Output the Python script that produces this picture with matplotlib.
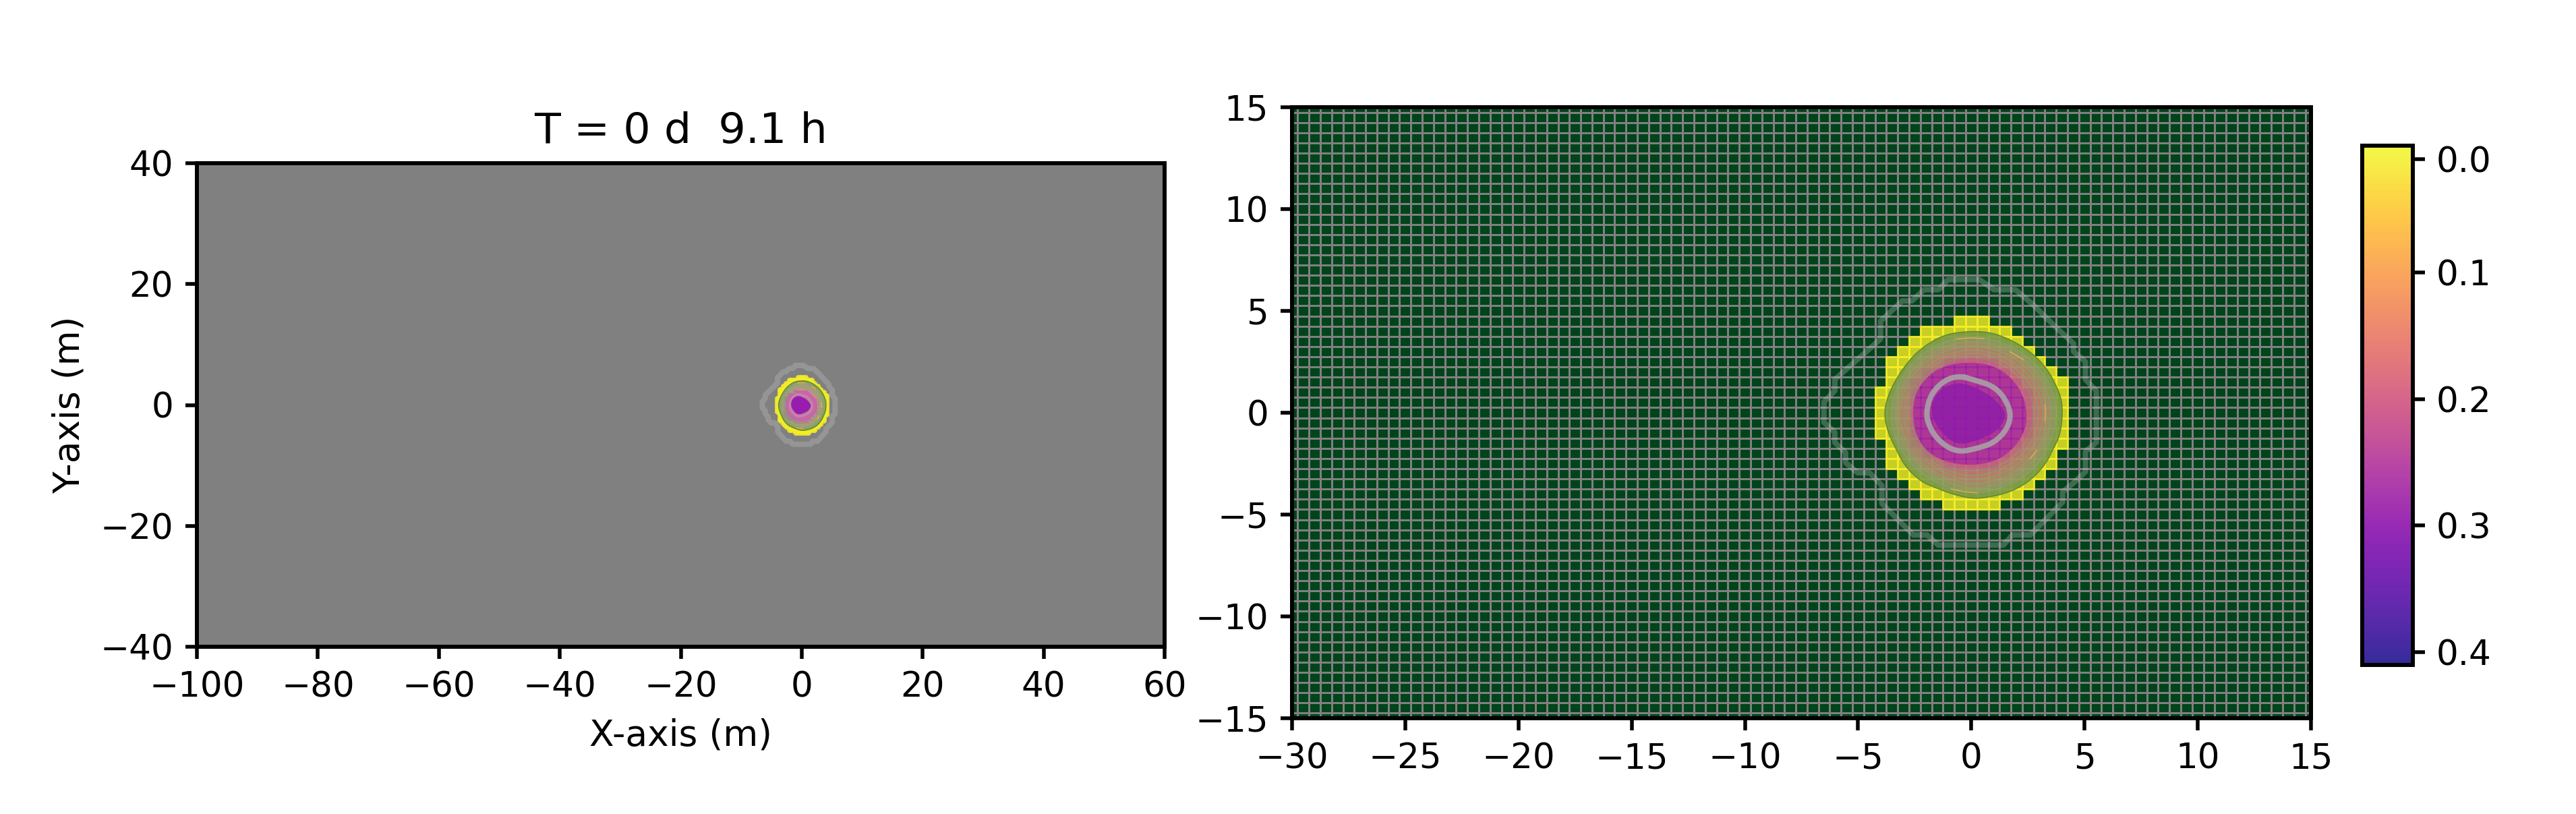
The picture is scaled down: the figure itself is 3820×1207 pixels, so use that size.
import numpy as np
import matplotlib
matplotlib.use("Agg")
import matplotlib.pyplot as plt
from matplotlib.cm import ScalarMappable
from matplotlib.colors import Normalize
from matplotlib.patches import PathPatch
from matplotlib.path import Path

cell_size = 0.5
x_first_edge, x_last_edge = -100.25, 60.25
y_first_edge, y_last_edge = -40.25, 40.25
background_value = 1.0

plume_row_y = [4.5, 4.0, 3.5, 3.0, 2.5, 2.0, 1.5, 1.0, 0.5, 0.0, -0.5, -1.0, -1.5, -2.0, -2.5, -3.0, -3.5, -4.0, -4.5]
plume_row_x0 = [-0.5, -2.0, -2.5, -3.0, -3.5, -3.5, -3.5, -4.0, -4.0, -4.0, -4.0, -4.0, -3.5, -3.5, -3.5, -3.0, -2.5, -2.0, -1.0]
plume_row_x1 = [0.5, 1.5, 2.0, 2.5, 3.0, 3.5, 4.0, 4.0, 4.0, 4.0, 4.0, 4.0, 4.0, 3.5, 3.5, 3.0, 2.5, 2.0, 1.0]
rim_value = 0.012
core_value = 0.285
core_row_y = [2.5, 2.0, 1.5, 1.0, 0.5, 0.0, -0.5, -1.0, -1.5, -2.0, -2.5]
core_row_x0 = [-1.0, -2.0, -2.5, -2.5, -2.5, -2.5, -2.5, -2.5, -2.5, -2.0, -1.0]
core_row_x1 = [1.0, 1.5, 2.0, 2.5, 2.5, 2.5, 2.5, 2.5, 2.0, 1.5, 1.0]

outer_x = [0.02, 0.92, 1.71, 2.31, 2.90, 3.40, 3.75, 4.00, 4.02, 3.90, 3.60, 3.30, 2.70, 1.91, 1.11, 0.12, -0.77, -1.57, -2.26, -2.96, -3.36, -3.65, -3.83, -3.80, -3.55, -3.16, -2.56, -1.87, -1.07]
outer_y = [4.01, 3.93, 3.59, 3.21, 2.71, 2.05, 1.33, 0.61, -0.27, -1.15, -1.81, -2.48, -3.25, -3.80, -4.08, -4.24, -4.02, -3.69, -3.36, -2.59, -1.70, -1.04, -0.27, 0.39, 1.17, 1.94, 2.82, 3.43, 3.87]
magenta_x = [-0.18, 0.72, 1.41, 2.01, 2.36, 2.46, 2.31, 1.81, 1.11, -0.08, -1.27, -2.07, -2.46, -2.58, -2.51, -2.16, -1.57, -0.87]
magenta_y = [2.47, 2.38, 2.05, 1.39, 0.61, -0.27, -1.04, -1.81, -2.37, -2.61, -2.37, -1.81, -1.04, -0.16, 0.83, 1.50, 2.10, 2.38]
core_x = [-0.52, 0.22, 0.92, 1.31, 1.56, 1.21, 0.52, -0.48, -1.07, -1.57, -1.77, -1.62, -1.17]
core_y = [1.50, 1.22, 0.78, 0.28, -0.10, -0.82, -1.26, -1.59, -1.26, -0.60, 0.06, 0.83, 1.28]
ring_x = [-0.52, 0.12, 0.92, 1.41, 1.76, 1.61, 1.01, 0.22, -0.48, -1.07, -1.62, -1.92, -1.99, -1.77, -1.17]
ring_y = [1.81, 1.61, 1.33, 0.83, 0.01, -0.77, -1.48, -1.76, -1.92, -1.70, -1.15, -0.49, 0.06, 0.95, 1.61]
faint_x = [-0.71, 0.36, 1.00, 1.95, 2.70, 3.76, 4.51, 4.51, 5.04, 5.04, 5.52, 5.52, 5.04, 5.04, 4.51, 4.03, 4.03, 2.61, 1.81, 1.42, -1.46, -1.96, -2.56, -3.95, -3.95, -4.49, -5.02, -5.55, -5.55, -6.03, -6.03, -6.51, -6.51, -6.03, -6.03, -4.01, -4.01, -3.05, -2.62, -2.09, -1.45, -1.03]
faint_y = [6.54, 6.54, 6.04, 6.04, 5.33, 4.17, 3.40, 3.01, 2.51, 1.63, 1.08, -1.46, -1.90, -2.90, -3.45, -3.89, -4.39, -6.00, -6.00, -6.50, -6.50, -6.00, -6.00, -4.46, -3.58, -2.95, -2.95, -2.45, -1.96, -1.46, -0.96, -0.47, 0.53, 1.08, 1.63, 3.62, 4.50, 5.49, 5.49, 6.04, 6.04, 6.54]

ring_bearing_deg = [0, 22.5, 45, 67.5, 90, 112.5, 135, 157.5, 180, 202.5, 225, 247.5, 270, 292.5, 315, 337.5]
ring_r6 = [3.83, 3.80, 3.75, 3.76, 3.78, 3.74, 3.62, 3.56, 3.62, 3.62, 3.73, 3.82, 4.01, 4.00, 3.95, 3.83]
ring_r5 = [3.58, 3.56, 3.55, 3.52, 3.55, 3.50, 3.40, 3.36, 3.40, 3.42, 3.50, 3.60, 3.78, 3.76, 3.70, 3.60]
ring_r4 = [3.38, 3.34, 3.34, 3.30, 3.34, 3.28, 3.22, 3.18, 3.20, 3.22, 3.32, 3.42, 3.54, 3.55, 3.48, 3.40]
ring_r3 = [3.22, 3.18, 3.16, 3.12, 3.14, 3.10, 3.04, 3.00, 3.02, 3.04, 3.12, 3.22, 3.36, 3.32, 3.28, 3.24]
ring_r2 = [3.00, 2.98, 2.96, 2.94, 2.96, 2.90, 2.86, 2.84, 2.86, 2.88, 2.96, 3.04, 3.14, 3.10, 3.08, 3.02]
ring_r1 = [2.78, 2.76, 2.76, 2.74, 2.78, 2.72, 2.70, 2.68, 2.70, 2.72, 2.78, 2.86, 2.90, 2.90, 2.86, 2.80]

sliver_x = [[-0.67, 0.0, 0.55], [1.71, 2.0, 2.3], [3.25, 3.28, 3.25], [-0.87, -0.3, 0.25], [2.9, 2.75, 2.6]]
sliver_y = [[3.62, 3.68, 3.64], [2.99, 2.8, 2.6], [0.40, 0.0, -0.40], [-3.75, -3.88, -3.93], [-1.85, -2.05, -2.25]]

right_band_colors = ["#7d9b46", "#8c965a", "#9e8c62", "#aa8264", "#b27d69", "#b9736e", "#c3647d"]
right_magenta_color = "#e656a0"
right_core_color = "#ba33ca"
left_band_colors = ["#7f9a5c", "#929070", "#b89170", "#c58f70", "#c98d78", "#cc8a85", "#cf85a0"]
left_magenta_color = "#d36fa8"
left_core_color = "#9a1fb0"

left_xticks = [-100, -80, -60, -40, -20, 0, 20, 40, 60]
left_yticks = [-40, -20, 0, 20, 40]
right_xticks = [-30, -25, -20, -15, -10, -5, 0, 5, 10, 15]
right_yticks = [-15, -10, -5, 0, 5, 10, 15]
cbar_ticks = [0.0106, 0.1, 0.2, 0.3, 0.4]
cbar_labels = ["0.0", "0.1", "0.2", "0.3", "0.4"]
title_text = "T = 0 d  9.1 h"
depth_min, depth_max = 0.0, 0.41

W, H, DPI = 3820, 1207, 360
plt.rcParams.update({"font.family": "DejaVu Sans", "font.size": 10.3,
                     "axes.linewidth": 1.2, "xtick.major.width": 1.1, "ytick.major.width": 1.1,
                     "xtick.major.size": 3.5, "ytick.major.size": 3.5})
fig = plt.figure(figsize=(W / DPI, H / DPI), dpi=DPI)


def box(x0, y0, x1, y1):
    return [x0 / W, 1 - y1 / H, (x1 - x0) / W, (y1 - y0) / H]


ax_l = fig.add_axes(box(292, 242, 1727, 959))
ax_r = fig.add_axes(box(1916, 159, 3427, 1065))
cax = fig.add_axes(box(3503, 216, 3578, 986))

x_edges = np.arange(x_first_edge, x_last_edge + cell_size / 2, cell_size)
y_edges = np.arange(y_first_edge, y_last_edge + cell_size / 2, cell_size)
x_cent = 0.5 * (x_edges[:-1] + x_edges[1:])
y_cent = 0.5 * (y_edges[:-1] + y_edges[1:])

depth = np.full((len(y_cent), len(x_cent)), np.nan)
for yv, a, b in zip(plume_row_y, plume_row_x0, plume_row_x1):
    j = int(round((yv - y_cent[0]) / cell_size))
    i0 = int(round((a - x_cent[0]) / cell_size))
    i1 = int(round((b - x_cent[0]) / cell_size))
    depth[j, i0:i1 + 1] = rim_value
for yv, a, b in zip(core_row_y, core_row_x0, core_row_x1):
    j = int(round((yv - y_cent[0]) / cell_size))
    i0 = int(round((a - x_cent[0]) / cell_size))
    i1 = int(round((b - x_cent[0]) / cell_size))
    depth[j, i0:i1 + 1] = core_value
depth = np.ma.masked_invalid(depth)
background = np.full((len(y_cent), len(x_cent)), background_value)

norm = Normalize(depth_min, depth_max)
cell_alpha = 0.82
theta = np.deg2rad(ring_bearing_deg)


def polar(r):
    r = np.asarray(r)
    return r * np.cos(theta), r * np.sin(theta)


def smooth(x, y, passes=2):
    p = np.c_[x, y]
    for _ in range(passes):
        q = np.roll(p, -1, axis=0)
        p = np.c_[0.75 * p + 0.25 * q, 0.25 * p + 0.75 * q].reshape(-1, 2)
    return p[:, 0], p[:, 1]


def closed(x, y):
    x, y = np.asarray(x), np.asarray(y)
    return np.r_[x, x[0]], np.r_[y, y[0]]


def ccw(x, y):
    x, y = np.asarray(x), np.asarray(y)
    area = np.sum(x * np.roll(y, -1) - np.roll(x, -1) * y)
    return (x, y) if area > 0 else (x[::-1], y[::-1])


def annulus(xo, yo, xi=None, yi=None):
    xo, yo = closed(*ccw(xo, yo))
    v = np.c_[xo, yo]
    c = [Path.MOVETO] + [Path.LINETO] * (len(xo) - 2) + [Path.CLOSEPOLY]
    if xi is not None:
        xi, yi = closed(*ccw(xi, yi))
        v = np.r_[v, np.c_[xi[::-1], yi[::-1]]]
        c += [Path.MOVETO] + [Path.LINETO] * (len(xi) - 2) + [Path.CLOSEPOLY]
    return Path(v, c)


def grid_overlay(ax, clip_poly, color, alpha, lw, zorder):
    clip = PathPatch(annulus(*clip_poly), transform=ax.transData)
    near_x = x_edges[np.abs(x_edges) < 5]
    near_y = y_edges[np.abs(y_edges) < 5]
    for coll in (ax.vlines(near_x, -5, 5, color=color, lw=lw, alpha=alpha, zorder=zorder),
                 ax.hlines(near_y, -5, 5, color=color, lw=lw, alpha=alpha, zorder=zorder)):
        coll.set_clip_path(clip)
        coll.set_antialiased(False)


def draw(ax, grid_lw, bands, band_alpha, magenta_col, magenta_alpha, core_col, core_alpha, ring_lw, ring_alpha, line_alpha):
    ax.pcolormesh(x_edges, y_edges, background, cmap="Greens", vmin=0, vmax=1,
                  edgecolors="#808080", linewidth=grid_lw, antialiased=False, zorder=1)
    ax.pcolormesh(x_edges, y_edges, depth, cmap="plasma_r", norm=norm, alpha=cell_alpha,
                  edgecolors="face", linewidth=grid_lw, antialiased=False, zorder=2)
    rings = [smooth(*polar(r)) for r in (ring_r6, ring_r5, ring_r4, ring_r3, ring_r2, ring_r1)]
    outer = smooth(outer_x, outer_y)
    magenta = smooth(magenta_x, magenta_y)
    core = smooth(core_x, core_y)
    stack = [outer] + rings + [magenta]
    for k, col in enumerate(bands):
        ax.add_patch(PathPatch(annulus(*stack[k], *stack[k + 1]), fc=col, ec="none", alpha=band_alpha, zorder=3))
    ax.add_patch(PathPatch(annulus(*magenta, *core), fc=magenta_col, ec="none", alpha=magenta_alpha, zorder=3))
    ax.add_patch(PathPatch(annulus(*core), fc=core_col, ec="none", alpha=core_alpha, zorder=3))
    if line_alpha > 0:
        grid_overlay(ax, outer, "#c8c870", 0.10, grid_lw, 3.4)
        grid_overlay(ax, magenta, "#7a00a8", line_alpha, grid_lw, 3.5)
    ax.plot(*closed(*outer), color="#5f8a2c", lw=0.35, alpha=0.9, zorder=4)
    for rx, ry in rings:
        ax.plot(*closed(rx, ry), color="#7aa088", lw=0.35, alpha=0.5, zorder=4)
    for sx, sy in zip(sliver_x, sliver_y):
        ax.plot(sx, sy, color="#f4a64e", lw=0.3, alpha=0.9, zorder=4)
    ax.plot(*closed(faint_x, faint_y), color="#c8c8c8", lw=1.6, alpha=0.3, zorder=5)
    ax.plot(*closed(*smooth(ring_x, ring_y)), color="#a8a8a8", lw=ring_lw, alpha=ring_alpha, zorder=5)


draw(ax_l, 0.606, left_band_colors, 0.9, left_magenta_color, 0.9, left_core_color, 0.82, 0.6, 0.6, 0.0)
draw(ax_r, 0.6, right_band_colors, 0.97, right_magenta_color, 0.5, right_core_color, 0.4, 1.6, 0.85, 0.35)

ax_l.set_xlim(-100, 60)
ax_l.set_ylim(-40, 40)
ax_l.set_xticks(left_xticks)
ax_l.set_yticks(left_yticks)
ax_l.set_xlabel("X-axis (m)", fontsize=10.7)
ax_l.set_ylabel("Y-axis (m)", fontsize=10.7)
ax_l.set_title(title_text, fontsize=12.7)

ax_r.set_xlim(-30, 15)
ax_r.set_ylim(-15, 15)
ax_r.set_xticks(right_xticks)
ax_r.set_yticks(right_yticks)

cb = fig.colorbar(ScalarMappable(norm=norm, cmap="plasma_r"), cax=cax, alpha=cell_alpha + 0.03)
cb.set_ticks(cbar_ticks)
cb.set_ticklabels(cbar_labels)
cb.ax.invert_yaxis()
cb.outline.set_linewidth(1.2)

fig.savefig("out.png", dpi=DPI)
